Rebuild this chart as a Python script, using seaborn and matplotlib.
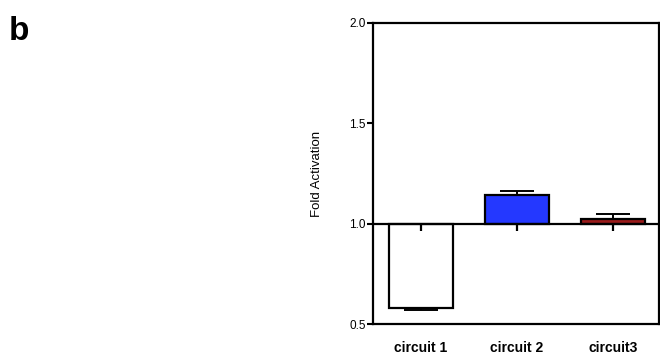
import numpy as np
import pandas as pd
import matplotlib
matplotlib.use("Agg")
import matplotlib.pyplot as plt
import seaborn as sns

# ---- data ----
categories = ["circuit 1", "circuit 2", "circuit3"]
values = [0.582, 1.142, 1.022]          # fold activation (bar ends)
errors = [0.011, 0.022, 0.025]          # SEM (one-sided, away from baseline)
bar_colors = ["#FFFFFF", "#2438FF", "#9B1B1B"]
baseline = 1.0
yticks = [0.5, 1.0, 1.5, 2.0]

sns.set_theme(style="white")
plt.rcParams["font.family"] = ["Liberation Sans", "DejaVu Sans"]
plt.rcParams["text.color"] = "black"
plt.rcParams["axes.labelcolor"] = "black"
plt.rcParams["xtick.color"] = "black"
plt.rcParams["ytick.color"] = "black"

fig = plt.figure(figsize=(6.6, 3.55), dpi=100)
ax = fig.add_axes([0.565, 0.0873, 0.4335, 0.848])

df = pd.DataFrame({"circuit": categories,
                   "delta": np.array(values) - baseline})

sns.barplot(data=df, x="circuit", y="delta", hue="circuit",
            palette=bar_colors, legend=False, saturation=1,
            bottom=baseline, width=0.67, edgecolor="black",
            linewidth=1.6, errorbar=None, ax=ax, zorder=3)

# one-sided error bars pointing away from the baseline
vals = np.array(values)
errs = np.array(errors)
lower = np.where(vals < baseline, errs, 0)
upper = np.where(vals >= baseline, errs, 0)
pos = np.arange(len(categories))
ax.errorbar(pos, vals, yerr=[lower, upper], fmt="none", ecolor="black",
            elinewidth=1.4, capsize=12, capthick=1.4, zorder=4)

# baseline axis with downward ticks
ax.axhline(baseline, color="black", lw=1.6, zorder=5)
ax.vlines(pos, baseline - 0.035, baseline, color="black", lw=1.6, zorder=5)

ax.set_ylim(0.5, 2.0)
ax.set_xlim(-0.5, 2.48)
ax.set_yticks(yticks)
ax.set_yticklabels([f"{t:.1f}" for t in yticks], fontsize=8.5, color="black")
ax.set_xlabel("")
ax.set_ylabel("Fold Activation", fontsize=9.5, color="black")
ax.yaxis.set_label_coords(-0.175, 0.5)
ax.tick_params(axis="y", direction="out", length=4.3, width=1.5,
               left=True, pad=1, colors="black")
ax.tick_params(axis="x", length=0, pad=12, colors="black")
for lab in ax.get_xticklabels():
    lab.set_fontweight("bold")
    lab.set_fontsize(10)
    lab.set_color("black")

for s in ax.spines.values():
    s.set_visible(True)
    s.set_color("black")
    s.set_linewidth(1.6)

fig.text(0.013, 0.955, "b", fontsize=24, fontweight="bold", va="top",
         ha="left", color="black")

fig.savefig("out.png", dpi=100)
